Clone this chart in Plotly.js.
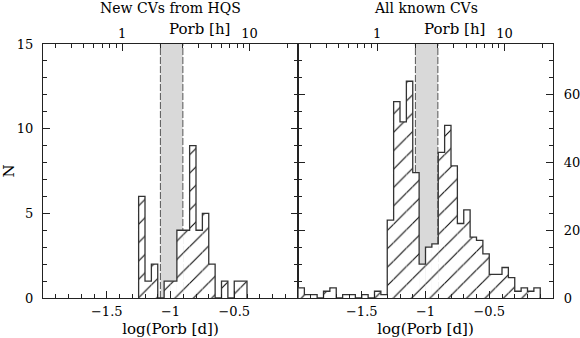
<!DOCTYPE html>
<html>
<head>
<meta charset="utf-8">
<script src="https://cdn.plot.ly/plotly-3.0.1.min.js"></script>
<style>body{margin:0;background:#fff}</style>
</head>
<body>
<div id="chart" style="width:580px;height:338px"></div>
<script>
// histogram bins: left edge in log(Porb [d]), all bins 0.05 wide
const BIN_W = 0.05;

const hqsEdges = [-1.25, -1.20, -1.15, -1.10, -1.05, -1.00, -0.95, -0.90, -0.85,
                  -0.80, -0.75, -0.70, -0.65, -0.60, -0.55, -0.50, -0.45];
const hqsCounts = [6, 1, 2, 0, 1, 1, 4, 4, 9, 4, 5, 2, 0, 1, 0, 1, 1];

const allEdges = [-2.00, -1.95, -1.90, -1.85, -1.80, -1.75, -1.70, -1.65, -1.60, -1.55,
                  -1.50, -1.45, -1.40, -1.35, -1.30, -1.25, -1.20, -1.15, -1.10, -1.05,
                  -1.00, -0.95, -0.90, -0.85, -0.80, -0.75, -0.70, -0.65, -0.60, -0.55,
                  -0.50, -0.45, -0.40, -0.35, -0.30, -0.25, -0.20, -0.15];
const allCounts = [3, 1, 1, 0, 2, 3, 0, 1, 1, 0,
                   1, 0, 2, 1, 23, 58, 52, 64, 37, 10,
                   15, 16, 43, 51, 39, 22, 26, 18, 17, 13,
                   7, 7, 9, 6, 2, 3, 2, 3];

// period gap in hours
const gapHours = [2, 3];

// axis ticks
const xRange = [-2, 0];
const xMajor = [-1.5, -1, -0.5];
const hourMajor = [1, 10];
const hourMinor = [0.3, 0.4, 0.5, 0.6, 0.7, 0.8, 0.9, 2, 3, 4, 5, 6, 7, 8, 9, 20];
const nMajorL = [0, 5, 10, 15];
const nMajorR = [0, 20, 40, 60];

const FONT = "DejaVu Serif";
const INK = "#222";

function hatchBars(edges, counts, xa, ya) {
  return {
    type: "bar", x: edges, y: counts, width: BIN_W, offset: 0,
    xaxis: xa, yaxis: ya, hoverinfo: "skip", showlegend: false,
    marker: {
      color: "white", line: {width: 0},
      pattern: {shape: "/", fgcolor: "#111", bgcolor: "white", size: 13, solidity: 0.09}
    }
  };
}

function outline(edges, counts, xa, ya) {
  const end = edges[edges.length - 1] + BIN_W;
  return {
    type: "scatter", mode: "lines",
    x: [edges[0]].concat(edges, [end]),
    y: [0].concat(counts, [0]),
    line: {shape: "hv", color: "#333", width: 1.3},
    xaxis: xa, yaxis: ya, hoverinfo: "skip", showlegend: false
  };
}

// empty trace so the top (hours) axis gets drawn
function hourAxisHolder(xa, ya) {
  return {
    type: "scatter", mode: "lines", x: hourMajor, y: hourMajor.map(() => null),
    xaxis: xa, yaxis: ya, hoverinfo: "skip", showlegend: false
  };
}

const gapX = gapHours.map(h => Math.log10(h / 24));

function gapShapes(xref, yref) {
  const s = [{
    type: "rect", xref: xref, yref: yref + " domain", x0: gapX[0], x1: gapX[1], y0: 0, y1: 1,
    fillcolor: "#d9d9d9", line: {width: 0}, layer: "below"
  }];
  gapX.forEach(x => s.push({
    type: "line", xref: xref, yref: yref + " domain", x0: x, x1: x, y0: 0, y1: 1,
    line: {color: "#555", width: 1, dash: "7px,2px"}, layer: "below"
  }));
  return s;
}

const tickFont = {family: FONT, size: 13, color: "#000"};
const titleFont = {family: FONT, size: 14, color: "#000"};
const labelFont = {family: FONT, size: 15, color: "#000"};

function bottomAxis(domain, anchor) {
  return {
    domain: domain, anchor: anchor, range: xRange,
    tickmode: "array", tickvals: xMajor, ticks: "inside", ticklen: 7, tickcolor: INK,
    minor: {dtick: 0.1, tick0: 0, ticks: "inside", ticklen: 4, tickcolor: INK},
    showline: true, linecolor: INK, linewidth: 1.2, showgrid: false, zeroline: false,
    tickfont: tickFont, ticklabelstandoff: 1,
    title: {text: "log(Porb [d])", font: labelFont, standoff: 5}
  };
}

function topAxis(base, anchor) {
  return {
    overlaying: base, anchor: anchor, side: "top", type: "log",
    range: xRange.map(v => v + Math.log10(24)),
    tickmode: "array", tickvals: hourMajor, ticktext: hourMajor.map(String),
    ticks: "inside", ticklen: 7, tickcolor: INK,
    minor: {tickvals: hourMinor, ticks: "inside", ticklen: 4, tickcolor: INK},
    showline: true, linecolor: INK, linewidth: 1.2, showgrid: false, zeroline: false,
    tickfont: tickFont, ticklabelstandoff: 0
  };
}

const dL = [43 / 580, 298 / 580];
const dR = [298 / 580, 553 / 580];
const dY = [40 / 338, 294 / 338];

const data = [
  hatchBars(hqsEdges, hqsCounts, "x", "y"),
  outline(hqsEdges, hqsCounts, "x", "y"),
  hatchBars(allEdges, allCounts, "x2", "y2"),
  outline(allEdges, allCounts, "x2", "y2"),
  hourAxisHolder("x3", "y"),
  hourAxisHolder("x4", "y2")
];

const layout = {
  width: 580, height: 338,
  margin: {l: 0, r: 0, t: 0, b: 0},
  paper_bgcolor: "white", plot_bgcolor: "white",
  showlegend: false,
  xaxis: bottomAxis(dL, "y"),
  xaxis2: bottomAxis(dR, "y2"),
  xaxis3: topAxis("x", "y"),
  xaxis4: topAxis("x2", "y2"),
  yaxis: {
    domain: dY, anchor: "x", range: [0, 15],
    tickmode: "array", tickvals: nMajorL, ticks: "inside", ticklen: 7, tickcolor: INK,
    minor: {dtick: 1, ticks: "inside", ticklen: 4, tickcolor: INK},
    showline: true, linecolor: INK, linewidth: 1.2, mirror: "ticks",
    showgrid: false, zeroline: false, tickfont: tickFont, ticklabelstandoff: 6,
    title: {text: "N", font: labelFont, standoff: 5}
  },
  yaxis2: {
    domain: dY, anchor: "x2", side: "right", range: [0, 75],
    tickmode: "array", tickvals: nMajorR, ticks: "inside", ticklen: 7, tickcolor: INK,
    minor: {dtick: 5, ticks: "inside", ticklen: 4, tickcolor: INK},
    showline: true, linecolor: INK, linewidth: 1.2, mirror: "ticks",
    showgrid: false, zeroline: false, tickfont: tickFont, ticklabelstandoff: 7
  },
  shapes: gapShapes("x", "y").concat(gapShapes("x2", "y2")),
  annotations: [
    {text: "New CVs from HQS", xref: "x domain", yref: "paper", x: 0.5, y: 1.006,
     showarrow: false, font: titleFont, xanchor: "center", yanchor: "top"},
    {text: "All known CVs", xref: "x2 domain", yref: "paper", x: 0.5, y: 1.006,
     showarrow: false, font: titleFont, xanchor: "center", yanchor: "top"},
    {text: "Porb [h]", xref: "x domain", yref: "paper", x: 0.612, y: 0.915,
     showarrow: false, font: labelFont, xanchor: "center", yanchor: "middle"},
    {text: "Porb [h]", xref: "x2 domain", yref: "paper", x: 0.612, y: 0.915,
     showarrow: false, font: labelFont, xanchor: "center", yanchor: "middle"}
  ]
};

Plotly.newPlot("chart", data, layout, {staticPlot: true});
</script>
</body>
</html>
